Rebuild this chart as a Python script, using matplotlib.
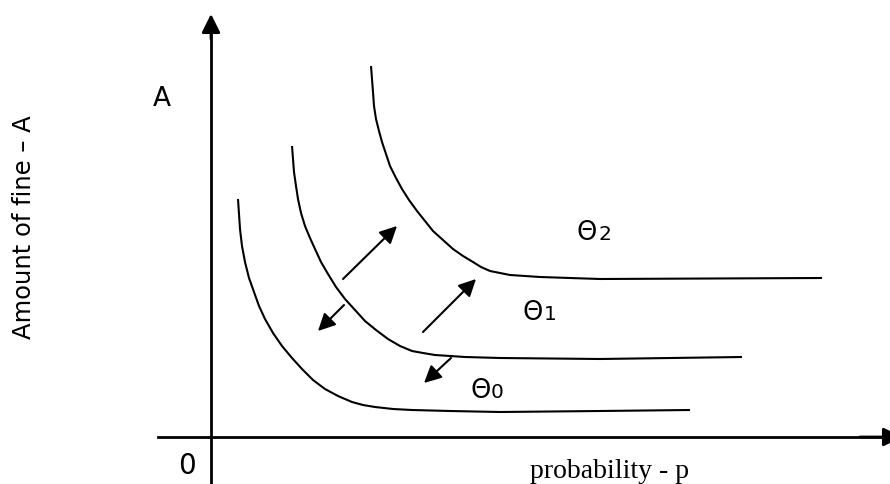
import matplotlib
matplotlib.use("Agg")
import matplotlib.pyplot as plt
from matplotlib.patches import FancyArrowPatch

# Coordinates: p to the right of the origin, A upward from the origin (diagram units)
OX, OY = 211, 438  # origin location in the drawing frame

def P(px):
    return [x - OX for x in px]

def Av(py):
    return [OY - y for y in py]

# Indifference curves (theta0, theta1, theta2)
c0_x = [238, 239, 240, 242, 245, 249, 254, 259, 265, 273, 282, 292, 302, 313, 325, 338, 352, 363, 375, 393, 412, 450, 500, 600, 690]
c0_y = [200, 215, 230, 247, 263, 279, 293, 307, 320, 334, 347, 359, 370, 381, 390, 397, 403, 406, 408, 410, 411, 412, 413, 412, 411]
c1_x = [292, 293, 294, 296, 298, 301, 305, 310, 315, 321, 328, 336, 345, 355, 365, 376, 388, 400, 412, 423, 435, 465, 500, 600, 742]
c1_y = [147, 160, 173, 187, 200, 214, 227, 239, 250, 263, 275, 288, 300, 311, 322, 331, 340, 347, 352, 354, 356, 358, 359, 360, 358]
c2_x = [371, 372, 373, 374, 376, 379, 382, 386, 390, 396, 402, 409, 417, 425, 433, 443, 453, 463, 473, 481, 490, 500, 510, 540, 600, 822]
c2_y = [67, 80, 93, 107, 120, 132, 143, 155, 167, 179, 190, 201, 212, 222, 232, 241, 250, 257, 263, 268, 272, 274, 276, 278, 280, 279]

# Shift arrows (tail -> head)
arrows = [((343, 280), (397, 227)),
          ((344, 306), (318, 332)),
          ((423, 333), (476, 280)),
          ((451, 359), (424, 384))]

theta_labels = ["0", "1", "2"]
theta_pos = [(470, 398), (523, 320), (577, 240)]

fig = plt.figure(figsize=(8.9, 4.85), dpi=100)
ax = fig.add_axes([0, 0, 1, 1])
ax.set_xlim(0 - OX, 890 - OX)
ax.set_ylim(OY - 485, OY - 0)
ax.axis("off")

lw_c = 1.5
for xs, ys in [(c0_x, c0_y), (c1_x, c1_y), (c2_x, c2_y)]:
    ax.plot(P(xs), Av(ys), color="black", lw=lw_c, solid_capstyle="butt",
            solid_joinstyle="round")

# Axes with arrowheads
ax.plot(P([211, 211]), Av([485, 28]), color="black", lw=2)
ax.add_patch(FancyArrowPatch((0, OY - 40), (0, OY - 15), arrowstyle="-|>",
                             mutation_scale=28, color="black", lw=2,
                             shrinkA=0, shrinkB=0))
ax.plot(P([158, 886]), Av([438, 438]), color="black", lw=2)
ax.add_patch(FancyArrowPatch((860 - OX, 0), (902 - OX, 0), arrowstyle="-|>",
                             mutation_scale=28, color="black", lw=2,
                             shrinkA=0, shrinkB=0, clip_on=False))

for (t, h) in arrows:
    ax.add_patch(FancyArrowPatch((t[0] - OX, OY - t[1]), (h[0] - OX, OY - h[1]),
                                 arrowstyle="-|>", mutation_scale=26,
                                 color="black", lw=1.5, shrinkA=0, shrinkB=0))

# Text
ax.text(162 - OX, OY - 99, "A", fontsize=19, family="DejaVu Sans",
        ha="center", va="center")
ax.text(187 - OX, OY - 466, "0", fontsize=20, family="DejaVu Sans",
        ha="center", va="center")
ax.text(24 - OX, OY - 227, "Amount of fine – A", fontsize=17.5,
        family="DejaVu Sans", rotation=90, ha="center", va="center")
ax.text(610 - OX, OY - 472, "probability - p", fontsize=20,
        family="Liberation Serif", ha="center", va="center")

for lab, (x, y) in zip(theta_labels, theta_pos):
    ax.text(x - OX, OY - y, "Θ", fontsize=18.5, family="DejaVu Sans",
            ha="left", va="baseline")
    ax.text(x + 21 - OX, OY - y, lab, fontsize=14.5, family="DejaVu Sans",
            ha="left", va="baseline")

fig.savefig("out.png", dpi=100)
